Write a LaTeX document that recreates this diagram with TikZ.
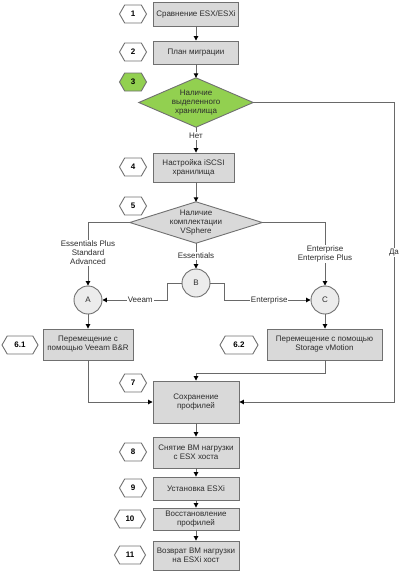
\documentclass[tikz,border=0pt]{standalone}
\usepackage{fontspec}
\setmainfont{Liberation Sans}
\usetikzlibrary{shapes.geometric,shapes.symbols,arrows.meta,backgrounds}
\definecolor{boxfill}{RGB}{217,217,217}
\definecolor{boxline}{RGB}{112,112,112}
\definecolor{grn}{RGB}{146,208,80}
\definecolor{circfill}{RGB}{236,236,236}
\definecolor{txt}{RGB}{45,45,45}
\definecolor{wire}{RGB}{105,105,105}
\begin{document}
\begin{tikzpicture}[x=1pt,y=-1pt,
  every node/.style={font=\fontsize{8}{9}\selectfont, text=txt},
  stepbox/.style={draw=boxline, fill=boxfill, line width=0.9pt, inner sep=1pt, align=center},
  hexnum/.style={signal, signal to=west and east, signal pointer angle=120, draw=boxline, fill=white,
    line width=0.9pt, inner sep=0pt, minimum height=18pt, font=\bfseries\fontsize{8}{9}\selectfont, text=black},
  decide/.style={rectangle, inner sep=0pt, align=center},
  shape outline/.style={draw=boxline, line width=0.9pt},
  letter/.style={circle, draw=boxline, fill=circfill, line width=0.9pt, minimum size=28pt, inner sep=0pt},
  conn/.style={draw=wire, line width=0.9pt, -{Triangle[length=4.5pt,width=4.5pt,color=black]}},
  lbl/.style={fill=white, inner sep=1pt, align=center}
]
\useasboundingbox (0,0) rectangle (400,571);

% process boxes
\node[stepbox, minimum width=85pt, minimum height=24pt] (b1) at (196,14) {Сравнение ESX/ESXi};
\node[stepbox, minimum width=85pt, minimum height=23pt] (b2) at (196,52.5) {План миграции};
\node[decide, minimum width=114pt, minimum height=49pt] (d3) at (196,102.5) {Наличие\\выделенного\\хранилища};
\node[stepbox, minimum width=81pt, minimum height=29pt] (b4) at (193.5,167.5) {Настройка iSCSI\\хранилища};
\node[decide, minimum width=132pt, minimum height=41pt] (d5) at (196,222.5) {Наличие\\комплектации\\VSphere};
\node[letter] (A) at (88,300) {A};
\node[letter] (B) at (196,283) {B};
\node[letter] (C) at (325,300) {C};
\node[stepbox, minimum width=90pt, minimum height=31pt] (b61) at (88,344.5) {Перемещение с\\помощью Veeam B\&R};
\node[stepbox, minimum width=115pt, minimum height=31pt] (b62) at (324.5,344.5) {Перемещение с помощью\\Storage vMotion};
\node[stepbox, minimum width=86pt, minimum height=42pt] (b7) at (196,402) {Сохранение\\профилей};
\node[stepbox, minimum width=86pt, minimum height=31pt] (b8) at (196,452.5) {Снятие ВМ нагрузки\\с ESX хоста};
\node[stepbox, minimum width=86pt, minimum height=23pt] (b9) at (196,488.5) {Установка ESXi};
\node[stepbox, minimum width=86pt, minimum height=22pt] (b10) at (196,519) {Восстановление\\профилей};
\node[stepbox, minimum width=86pt, minimum height=29pt] (b11) at (196,555.5) {Возврат ВМ нагрузки\\на ESXi хост};

% diamond outlines behind their texts
\begin{pgfonlayer}{background}
  \draw[shape outline, fill=grn] (d3.west) -- (d3.north) -- (d3.east) -- (d3.south) -- cycle;
  \draw[shape outline, fill=boxfill] (d5.west) -- (d5.north) -- (d5.east) -- (d5.south) -- cycle;
\end{pgfonlayer}

% step numbers
\node[hexnum, minimum width=27pt] (h1) at (133,14) {1};
\node[hexnum, minimum width=27pt] (h2) at (133,52) {2};
\node[hexnum, minimum width=27pt, fill=grn] (h3) at (133,82) {3};
\node[hexnum, minimum width=27pt] (h4) at (133,167) {4};
\node[hexnum, minimum width=27pt] (h5) at (133,206) {5};
\node[hexnum, minimum width=36pt] (h61) at (20,345) {6.1};
\node[hexnum, minimum width=38pt] (h62) at (239,345) {6.2};
\node[hexnum, minimum width=27pt] (h7) at (133,383) {7};
\node[hexnum, minimum width=27pt] (h8) at (133,452) {8};
\node[hexnum, minimum width=27pt] (h9) at (133,488) {9};
\node[hexnum, minimum width=31pt] (h10) at (130,519) {10};
\node[hexnum, minimum width=31pt] (h11) at (130,555) {11};

\coordinate (daTop) at (394,102.5);
\coordinate (daBot) at (394,402);

% connectors
\draw[conn] (b1.south) -- (b2.north);
\draw[conn] (b2.south) -- (d3.north);
\draw[conn] (d3.south) -- node[lbl, pos=0.35] {Нет} (d3.south |- b4.north);
\draw[conn] (d3.south |- b4.south) -- (d5.north);
\draw[conn] (d3.east) -- (daTop) -- node[lbl] {Да} (daBot) -- (b7.east);
\draw[conn] (d5.west) -| node[lbl, pos=0.74] {Essentials Plus\\Standard\\Advanced} (A.north);
\draw[conn] (d5.south) -- node[lbl] {Essentials} (B.north);
\draw[conn] (d5.east) -| node[lbl, pos=0.75] {Enterprise\\Enterprise Plus} (C.north);
\draw[conn] (B.west) -- ++(-14,0) |- node[lbl, pos=0.71] {Veeam} (A.east);
\draw[conn] (B.east) -- ++(14,0) |- node[lbl, pos=0.76] {Enterprise} (C.east -| C.west);
\draw[conn] (A.south) -- (b61.north);
\draw[conn] (C.south) -- (C.south |- b62.north);
\draw[conn] (b61.south) |- (b7.west);
\draw[conn] (C.south |- b62.south) -- ++(0,13) -| (b7.north);
\draw[conn] (b7.south) -- (b8.north);
\draw[conn] (b8.south) -- (b9.north);
\draw[conn] (b9.south) -- (b10.north);
\draw[conn] (b10.south) -- (b11.north);
\end{tikzpicture}
\end{document}
